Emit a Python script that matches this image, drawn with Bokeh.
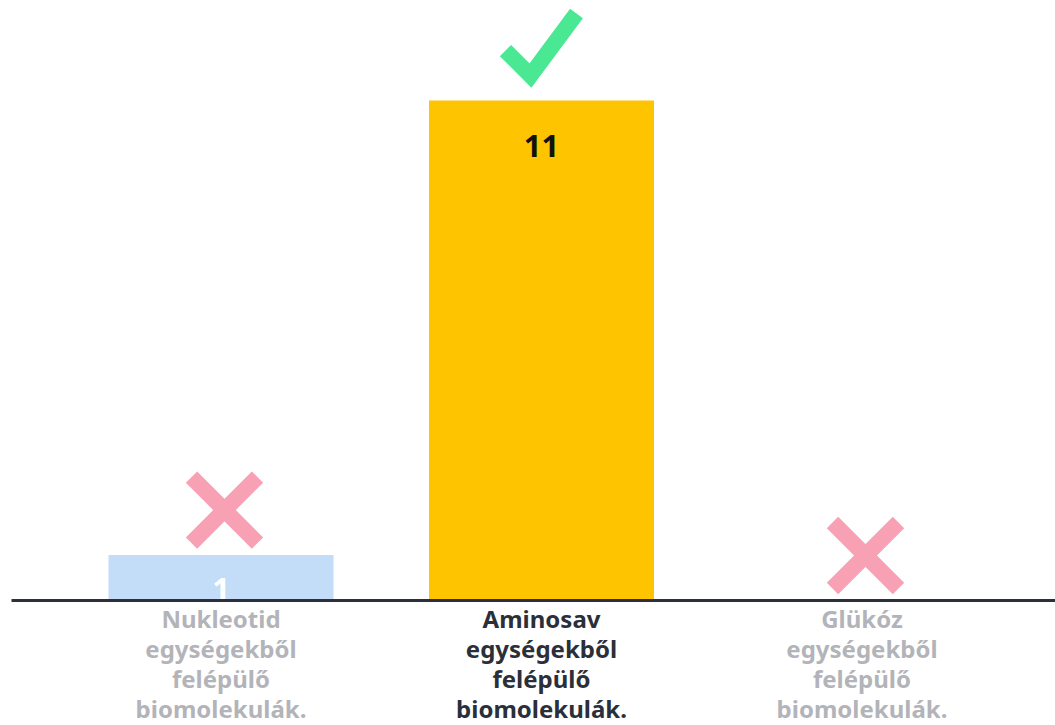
from bokeh.plotting import figure
from bokeh.models import Range1d, ColumnDataSource
from bokeh.core.properties import value
from bokeh.embed import file_html
from bokeh.resources import INLINE

# ---- data ----
categories = ["Nukleotid\negységekből\nfelépülő\nbiomolekulák.",
              "Aminosav\negységekből\nfelépülő\nbiomolekulák.",
              "Glükóz\negységekből\nfelépülő\nbiomolekulák."]
values = [1, 11, 0]
correct = [False, True, False]
bar_colors = ["#C3DCF7", "#FFC400", "#C3DCF7"]
value_label_colors = ["#FFFFFF", "#111111", "#FFFFFF"]
label_colors = ["#B3B4B9", "#2B2F3A", "#B3B4B9"]

# ---- geometry ----
W, H = 1055, 725
px_x = 320.5          # pixels per category
px_y = 45.45          # pixels per unit value
x_start = -220.5 / px_x
x_end = x_start + W / px_x
y_end = 600 / px_y
y_start = y_end - H / px_y
dx = 1 / px_x
dy = 1 / px_y

p = figure(width=W, height=H, output_backend="svg", toolbar_location=None,
           x_range=Range1d(x_start, x_end), y_range=Range1d(y_start, y_end),
           min_border=0, min_border_left=0, min_border_right=0,
           min_border_top=0, min_border_bottom=0)
p.axis.visible = False
p.grid.visible = False
p.outline_line_color = None
p.background_fill_color = "#FFFFFF"
p.border_fill_color = "#FFFFFF"

xs = list(range(len(categories)))
src = ColumnDataSource(dict(x=xs, top=values, color=bar_colors))
p.vbar(x="x", top="top", bottom=0, width=225 / px_x, fill_color="color",
       line_color=None, source=src)

# value labels inside bars
for i, v in enumerate(values):
    if v <= 0:
        continue
    hpx = v * px_y
    off = 45 if hpx > 90 else hpx - 12
    p.text(x=[i], y=[v], text=[str(v)], y_offset=off,
           text_align="center", text_baseline="middle",
           text_font=value("Noto Sans"), text_font_style="bold",
           text_font_size="31px", text_color=value_label_colors[i])

# baseline
p.segment(x0=[x_start + 11 * dx], y0=[0], x1=[x_end], y1=[0],
          line_color="#2B303B", line_width=3)

# icons
for i, v in enumerate(values):
    if correct[i]:
        cx = i
        base = v
        vx = cx - 11 * dx
        vy = base + 25 * dy
        xs_ = [cx - 36 * dx, vx, cx + 35 * dx]
        ys_ = [base + 50 * dy, vy, base + 87 * dy]
        p.line(xs_, ys_, line_color="#4BE893", line_width=16,
               line_join="miter", line_cap="butt")
    else:
        cx = i + 3.5 * dx
        cy = v + 45 * dy
        a = 33
        p.multi_line(xs=[[cx - a * dx, cx + a * dx], [cx - a * dx, cx + a * dx]],
                     ys=[[cy - a * dy, cy + a * dy], [cy + a * dy, cy - a * dy]],
                     line_color="#F8A0B4", line_width=16, line_cap="butt")

# category labels (one glyph per line for exact spacing)
for i, c in enumerate(categories):
    for k, line in enumerate(c.split("\n")):
        p.text(x=[i], y=[0], text=[line], y_offset=18 + 30 * k,
               text_align="center", text_baseline="alphabetic",
               text_font=value("Noto Sans"), text_font_style="bold",
               text_font_size="24px", text_color=label_colors[i])

open("out.html", "w").write(file_html(p, INLINE))
